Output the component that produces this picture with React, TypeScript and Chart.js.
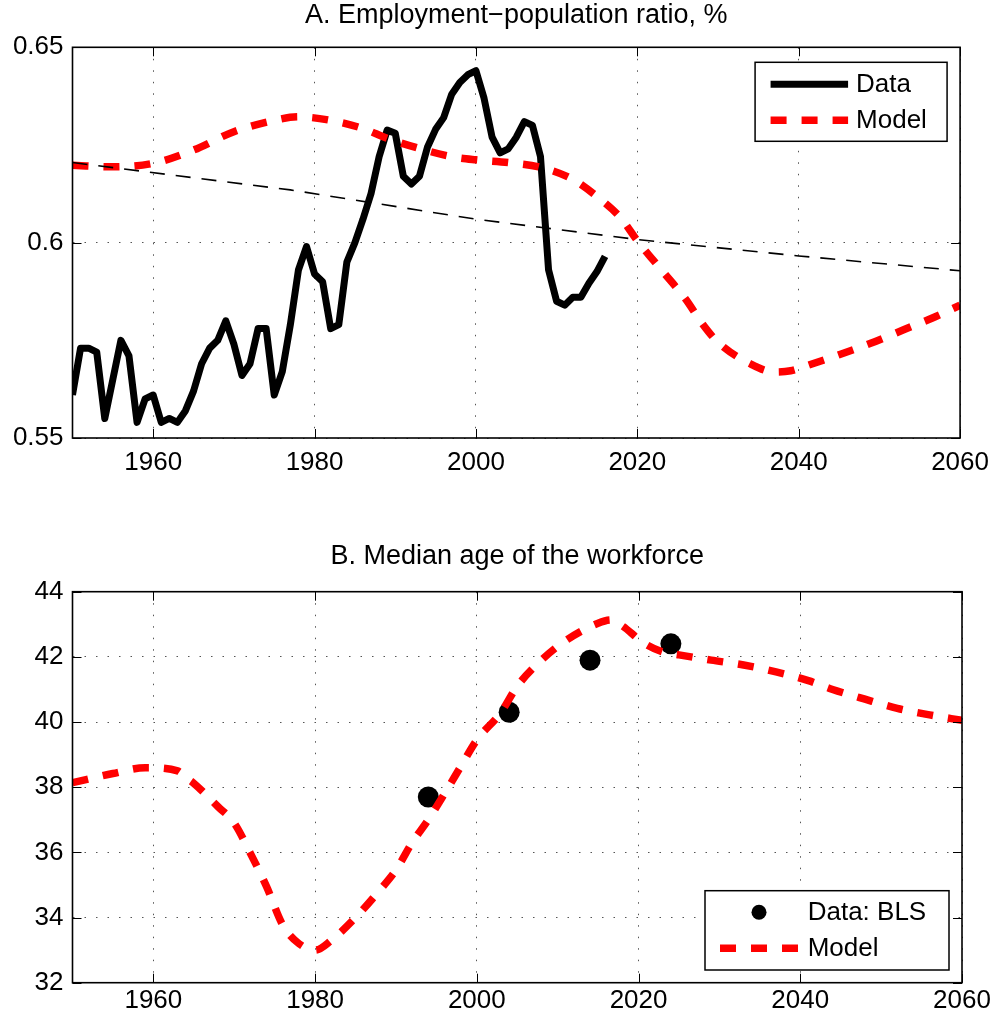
import React, { useEffect, useRef } from "react";
import { Chart, registerables } from "chart.js";

Chart.register(...registerables);

const FONT_FAMILY = "'Liberation Sans', Arial, Helvetica, sans-serif";

// ---------- shared x axis ----------
const X_MIN = 1950;
const X_MAX = 2060;
const X_TICKS = [1960, 1980, 2000, 2020, 2040, 2060];

// ---------- Panel A: Employment-population ratio ----------
const EPR_TITLE = "A. Employment\u2212population ratio, %";
const EPR_FIRST_YEAR = 1950;
const EPR_DATA = [
  0.561, 0.573, 0.573, 0.572, 0.555, 0.565, 0.575, 0.571, 0.554, 0.56,
  0.561, 0.554, 0.555, 0.554, 0.557, 0.562, 0.569, 0.573, 0.575, 0.58,
  0.574, 0.566, 0.569, 0.578, 0.578, 0.561, 0.567, 0.579, 0.593, 0.599,
  0.592, 0.59, 0.578, 0.579, 0.595, 0.6, 0.606, 0.6126, 0.622, 0.6288,
  0.628, 0.617, 0.615, 0.617, 0.6245, 0.629, 0.632, 0.638, 0.641, 0.643,
  0.644, 0.637, 0.627, 0.623, 0.624, 0.627, 0.631, 0.63, 0.622, 0.593,
  0.585, 0.584, 0.586, 0.586, 0.5896, 0.5926, 0.5965,
];
const EPR_MODEL_YEARS = [
  1950, 1955, 1960, 1965, 1970, 1975, 1978, 1982, 1986, 1989, 1993, 1997,
  2000, 2004, 2008, 2012, 2015, 2018, 2020, 2023, 2026, 2028, 2030, 2034,
  2037, 2039, 2041, 2045, 2049, 2053, 2057, 2060,
];
const EPR_MODEL = [
  0.6198, 0.6194, 0.6203, 0.6237, 0.6284, 0.6313, 0.6322, 0.6313, 0.6292,
  0.6267, 0.6241, 0.622, 0.6212, 0.6205, 0.6193, 0.6162, 0.6118, 0.6062,
  0.6005, 0.593, 0.5855, 0.5794, 0.5745, 0.569, 0.5669, 0.5672, 0.5685,
  0.5713, 0.5743, 0.5777, 0.5811, 0.584,
];
const EPR_TREND_YEARS = [1950, 1977, 2000, 2020, 2040, 2060];
const EPR_TREND = [0.6205, 0.6135, 0.606, 0.6008, 0.5966, 0.5928];
const EPR_Y_TICKS = [0.55, 0.6, 0.65];

// ---------- Panel B: Median age of the workforce ----------
const AGE_TITLE = "B. Median age of the workforce";
const AGE_BLS_YEARS = [1994, 2004, 2014, 2024];
const AGE_BLS = [37.7, 40.3, 41.9, 42.4];
const AGE_MODEL_YEARS = [
  1950, 1955, 1959, 1963, 1964, 1965, 1968, 1970, 1972, 1974, 1976, 1978,
  1980, 1982, 1985, 1988, 1990, 1992, 1994, 1996, 1998, 2000, 2003, 2005,
  2008, 2011, 2015, 2016.6, 2018, 2020.5, 2023, 2025, 2029, 2033, 2037,
  2041, 2044, 2048, 2052, 2056, 2060,
];
const AGE_MODEL = [
  38.14, 38.42, 38.6, 38.5, 38.3, 38.12, 37.4, 36.9, 35.97, 34.95, 33.77,
  33.2, 33.0, 33.3, 34.0, 34.84, 35.46, 36.3, 37.0, 37.8, 38.63, 39.45,
  40.3, 41.1, 41.9, 42.5, 43.03, 43.13, 42.95, 42.45, 42.15, 42.06, 41.9,
  41.75, 41.54, 41.27, 41.0, 40.7, 40.42, 40.22, 40.05,
];
const AGE_Y_TICKS = [32, 34, 36, 38, 40, 42, 44];

const zip = (xs: number[], ys: number[]) => ys.map((y, i) => ({ x: xs[i], y }));

const RED_DASH = [16, 15];

const framePlugin = {
  id: "frameAndLegend",
  afterDraw(chart: any, _args: any, opts: any) {
    const { ctx, chartArea: a, scales } = chart;
    const xs = scales.x;
    const ys = scales.y;
    ctx.save();
    ctx.setLineDash([]);
    // inner ticks
    const TL = 9;
    ctx.strokeStyle = "#000";
    ctx.lineWidth = 1;
    ctx.beginPath();
    xs.ticks.forEach((t: any) => {
      const px = Math.round(xs.getPixelForValue(t.value)) + 0.5;
      ctx.moveTo(px, a.bottom);
      ctx.lineTo(px, a.bottom - TL);
      ctx.moveTo(px, a.top);
      ctx.lineTo(px, a.top + TL);
    });
    ys.ticks.forEach((t: any) => {
      const py = Math.round(ys.getPixelForValue(t.value)) + 0.5;
      ctx.moveTo(a.left, py);
      ctx.lineTo(a.left + TL, py);
      ctx.moveTo(a.right, py);
      ctx.lineTo(a.right - TL, py);
    });
    ctx.stroke();
    // frame
    ctx.lineWidth = 1.6;
    ctx.strokeRect(a.left, a.top, a.right - a.left, a.bottom - a.top);

    // title, centred over the axes
    if (opts && opts.title) {
      ctx.fillStyle = "#000";
      ctx.font = `27px ${FONT_FAMILY}`;
      ctx.textAlign = "center";
      ctx.textBaseline = "middle";
      ctx.fillText(opts.title.text, (a.left + a.right) / 2, opts.title.y);
    }

    // legend
    const lg = opts && opts.legend;
    if (lg) {
      const bx = a.right - lg.right - lg.width;
      const by = lg.top != null ? a.top + lg.top : a.bottom - lg.bottom - lg.height;
      ctx.fillStyle = "#fff";
      ctx.fillRect(bx, by, lg.width, lg.height);
      ctx.strokeStyle = "#000";
      ctx.lineWidth = 1.5;
      ctx.strokeRect(bx, by, lg.width, lg.height);
      lg.items.forEach((di: number, k: number) => {
        const ds = chart.data.datasets[di];
        const ry = by + lg.rows[k];
        if (ds.showLine === false) {
          ctx.beginPath();
          ctx.fillStyle = ds.pointBackgroundColor;
          ctx.arc(bx + (lg.sampleL + lg.sampleR) / 2, ry, lg.dotRadius, 0, Math.PI * 2);
          ctx.fill();
        } else {
          ctx.beginPath();
          ctx.setLineDash(ds.borderDash || []);
          ctx.lineWidth = ds.borderWidth;
          ctx.strokeStyle = ds.borderColor;
          ctx.lineCap = "butt";
          ctx.moveTo(bx + lg.sampleL, ry);
          ctx.lineTo(bx + lg.sampleR, ry);
          ctx.stroke();
          ctx.setLineDash([]);
        }
        ctx.fillStyle = "#000";
        ctx.font = `26px ${FONT_FAMILY}`;
        ctx.textAlign = "left";
        ctx.textBaseline = "middle";
        ctx.fillText(ds.label, bx + lg.textX, ry + 1);
      });
    }
    ctx.restore();
  },
};

function axisX(labelPadding: number, height: number) {
  return {
    type: "linear",
    min: X_MIN,
    max: X_MAX,
    afterBuildTicks: (s: any) => {
      s.ticks = X_TICKS.map((v) => ({ value: v }));
    },
    afterFit: (s: any) => {
      s.height = height;
    },
    ticks: {
      font: { family: FONT_FAMILY, size: 26 },
      color: "#000",
      padding: labelPadding,
      maxRotation: 0,
      autoSkip: false,
      callback: (v: any) => String(v),
    },
    grid: { color: "#555", lineWidth: 1, drawTicks: false },
    border: { display: false, dash: [1.5, 10] },
  };
}

function axisY(min: number, max: number, tickVals: number[]) {
  return {
    type: "linear",
    min,
    max,
    afterBuildTicks: (s: any) => {
      s.ticks = tickVals.map((v) => ({ value: v }));
    },
    afterFit: (s: any) => {
      s.width = 72.5;
    },
    ticks: {
      font: { family: FONT_FAMILY, size: 26 },
      color: "#000",
      padding: 9,
      autoSkip: false,
      callback: (v: any) => String(v),
    },
    grid: { color: "#555", lineWidth: 1, drawTicks: false },
    border: { display: false, dash: [1.5, 10] },
  };
}

function configA(): any {
  return {
    type: "line",
    data: {
      datasets: [
        {
          label: "Data",
          data: EPR_DATA.map((v, i) => ({ x: EPR_FIRST_YEAR + i, y: v })),
          borderColor: "#000",
          borderWidth: 7,
          pointRadius: 0,
          tension: 0,
          borderJoinStyle: "round",
          order: 2,
        },
        {
          label: "Model",
          data: zip(EPR_MODEL_YEARS, EPR_MODEL),
          borderColor: "#ff0000",
          borderWidth: 7.5,
          borderDash: RED_DASH,
          pointRadius: 0,
          cubicInterpolationMode: "monotone",
          order: 1,
        },
        {
          label: "Trend",
          data: zip(EPR_TREND_YEARS, EPR_TREND),
          borderColor: "#000",
          borderWidth: 1.6,
          borderDash: [15, 11],
          pointRadius: 0,
          tension: 0,
          order: 0,
        },
      ],
    },
    options: {
      responsive: false,
      animation: false,
      layout: { padding: { left: 0, right: 36, top: 47.3, bottom: 0 } },
      scales: {
        x: axisX(9, 62),
        y: axisY(0.55, 0.65, EPR_Y_TICKS),
      },
      plugins: {
        legend: { display: false },
        tooltip: { enabled: false },
        title: { display: false },
        frameAndLegend: {
          title: { text: EPR_TITLE, y: 16 },
          legend: {
            right: 13,
            top: 15,
            width: 192,
            height: 79,
            rows: [22, 58],
            sampleL: 15.5,
            sampleR: 93,
            textX: 101,
            dotRadius: 7.5,
            items: [0, 1],
          },
        },
      },
    },
    plugins: [framePlugin],
  };
}

function configB(): any {
  return {
    type: "line",
    data: {
      datasets: [
        {
          label: "Data: BLS",
          data: zip(AGE_BLS_YEARS, AGE_BLS),
          showLine: false,
          pointRadius: 10.5,
          pointBackgroundColor: "#000",
          pointBorderWidth: 0,
          borderColor: "#000",
          order: 2,
        },
        {
          label: "Model",
          data: zip(AGE_MODEL_YEARS, AGE_MODEL),
          borderColor: "#ff0000",
          borderWidth: 7.5,
          borderDash: RED_DASH,
          pointRadius: 0,
          cubicInterpolationMode: "monotone",
          order: 1,
        },
      ],
    },
    options: {
      responsive: false,
      animation: false,
      layout: { padding: { left: 0, right: 36, top: 91.7, bottom: 0 } },
      scales: {
        x: axisX(2.7, 42.3),
        y: axisY(32, 44, AGE_Y_TICKS),
      },
      plugins: {
        legend: { display: false },
        tooltip: { enabled: false },
        title: { display: false },
        frameAndLegend: {
          title: { text: AGE_TITLE, y: 57 },
          legend: {
            right: 13,
            bottom: 12.7,
            width: 244,
            height: 79.3,
            rows: [21.6, 57.6],
            sampleL: 15,
            sampleR: 93,
            textX: 102.7,
            dotRadius: 7.5,
            items: [0, 1],
          },
        },
      },
    },
    plugins: [framePlugin],
  };
}

export default function App() {
  const refA = useRef<HTMLCanvasElement | null>(null);
  const refB = useRef<HTMLCanvasElement | null>(null);

  useEffect(() => {
    const a = new Chart(refA.current as HTMLCanvasElement, configA());
    const b = new Chart(refB.current as HTMLCanvasElement, configB());
    return () => {
      a.destroy();
      b.destroy();
    };
  }, []);

  return (
    <div
      style={{
        position: "absolute",
        left: 0,
        top: 0,
        width: 998,
        height: 1025,
        background: "#fff",
        overflow: "hidden",
      }}
    >
      <canvas
        ref={refA}
        width={998}
        height={500}
        style={{ position: "absolute", left: 0, top: 0, width: 998, height: 500 }}
      />
      <canvas
        ref={refB}
        width={998}
        height={525}
        style={{ position: "absolute", left: 0, top: 500, width: 998, height: 525 }}
      />
    </div>
  );
}
